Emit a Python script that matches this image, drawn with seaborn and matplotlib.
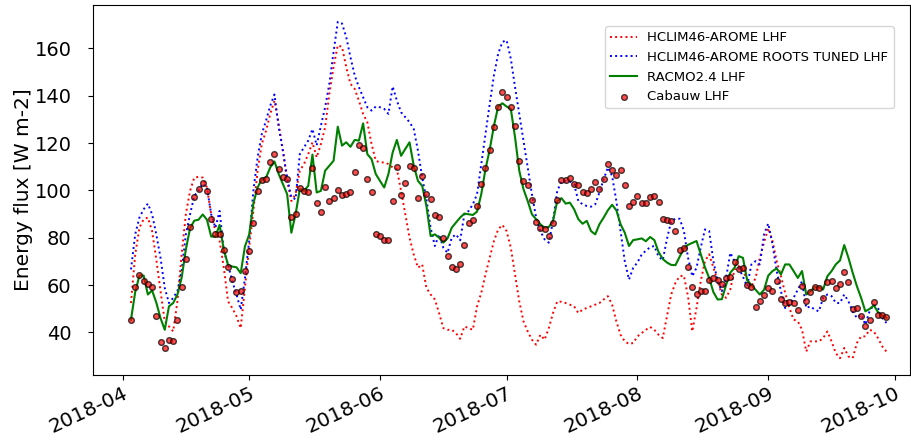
"""Latent heat flux at Cabauw: models vs observations, Apr-Sep 2018."""

import matplotlib

matplotlib.use("Agg")
import matplotlib.pyplot as plt
import pandas as pd
import seaborn as sns

# daily values, 2018-04-03 .. 2018-09-29
start_date = "2018-04-03"

hclim_lhf = [
    52.4, 72.9, 84.2, 87.8, 88.5, 82.8, 70.8, 57.4, 44.7, 42.5, 40.4, 53.1, 72.9, 89.9, 99.8,
    105.4, 105.7, 105.4, 101.2, 89.9, 82.8, 78.6, 67.3, 53.1, 50.3, 46.8, 41.8, 58.8, 75.8, 91.3,
    108.3, 119.6, 125.2, 132.3, 137.9, 128.1, 116.7, 104.0, 95.5, 98.4, 108.3, 111.1, 115.3, 120.3, 113.9,
    119.6, 126.6, 140.8, 152.1, 161.3, 160.6, 152.1, 145.0, 142.9, 137.9, 132.3, 128.8, 119.6, 112.5, 111.8,
    111.8, 111.1, 109.7, 109.0, 99.8, 89.9, 80.0, 72.9, 67.3, 68.7, 58.8, 56.0, 53.9, 48.2, 41.8,
    41.1, 41.1, 39.7, 37.3, 42.5, 41.8, 41.1, 51.0, 56.7, 64.5, 71.5, 78.6, 83.5, 85.4, 82.8, 75.8,
    64.5, 53.1, 44.7, 40.4, 36.9, 34.8, 39.0, 36.9, 41.8, 48.2, 53.1, 52.9, 52.4, 51.7, 51.0,
    48.2, 49.6, 50.3, 51.0, 51.7, 52.4, 53.9, 55.3, 51.7, 44.7, 39.0, 36.2, 35.1,
    35.5, 38.3, 39.7, 41.1, 42.3, 41.1, 39.0, 37.6, 46.8, 56.0, 60.9, 63.7, 64.0, 55.0, 40.4,
    50.3, 61.6, 70.1, 73.0, 67.3, 61.6, 56.0, 54.6, 58.1, 66.6, 68.0, 66.0, 62.3, 59.5, 63.0,
    71.5, 78.0, 84.0,
    78.6, 70.1, 63.7, 56.7, 50.3, 45.4, 44.7, 41.1, 31.9, 36.2, 36.2, 36.2, 37.6, 40.4, 36.2,
    31.2, 29.1, 33.4, 29.8, 29.1, 35.5, 38.3, 38.3, 41.1, 40.4, 37.6, 34.1, 31.9,
]

hclim_roots_lhf = [
    66.6, 81.4, 88.5, 92.0, 94.4, 89.9, 81.4, 71.5, 58.8, 52.4, 54.6, 57.4, 65.9, 81.4, 89.9,
    97.7, 99.8, 102.9, 101.2, 89.9, 84.2, 91.3, 74.3, 68.7, 61.6, 56.0, 49.6, 63.0, 78.6, 99.8,
    113.9, 123.8, 129.5, 135.8, 140.5, 126.6, 116.7, 105.4, 97.0, 96.3, 115.3, 118.2, 121.0, 125.9, 119.0,
    127.3, 135.1, 145.0, 158.4, 171.2, 170.5, 164.8, 156.3, 148.6, 143.6, 139.4, 135.1, 133.7, 135.4, 135.1,
    134.4, 132.3, 143.9, 137.9, 133.0, 130.9, 128.8, 125.9, 116.7, 105.4, 96.3, 84.2, 76.5, 81.4, 75.8,
    73.6, 80.0, 81.4, 78.9, 89.9, 91.3, 94.1, 98.4, 111.1, 123.8, 136.5, 148.6, 157.7, 162.7, 163.4, 155.6,
    143.6, 132.3, 121.0, 109.7, 98.4, 88.5, 82.8, 79.3, 77.9, 87.1, 99.8, 103.7, 104.0, 103.7, 102.6,
    95.5, 94.1, 93.4, 93.1, 94.1, 99.1, 104.7, 109.7, 106.1, 95.5, 82.8, 70.1, 62.3,
    67.3, 69.5, 72.9, 74.5, 76.0, 76.5, 72.0, 70.5, 79.5, 87.0, 88.0, 88.0, 83.0, 71.5, 63.7,
    67.3, 75.8, 83.5, 82.8, 70.1, 61.6, 57.4, 63.0, 73.6, 70.1, 67.3, 63.5, 59.5, 68.7, 70.1,
    68.7, 81.4, 86.0,
    77.2, 65.9, 57.4, 50.3, 51.7, 54.6, 58.1, 61.6, 50.3, 51.0, 49.6, 48.9, 54.6, 56.0, 55.3,
    52.4, 52.4, 56.0, 53.1, 48.9, 46.1, 47.5, 43.3, 48.9, 51.7, 50.3, 46.1, 44.0,
]

racmo_lhf = [
    45.4, 57.0, 64.0, 64.0, 56.0, 57.7, 52.6, 46.0, 41.1, 51.0, 52.4, 56.0, 63.0, 75.0, 84.0,
    87.2, 87.6, 89.8, 87.6, 80.5, 80.5, 85.4, 74.8, 68.5, 67.8, 67.5, 65.0, 76.3, 81.3, 94.5,
    101.2, 104.7, 105.4, 109.7, 112.2, 106.9, 102.6, 98.4, 82.1, 89.9, 100.5, 99.8, 101.9, 115.1, 99.1,
    99.8, 108.3, 110.4, 112.5, 126.9, 118.9, 120.3, 118.4, 121.3, 121.0, 128.3, 115.3, 113.2, 106.9, 104.0,
    101.2, 106.9, 116.0, 121.3, 114.6, 117.5, 120.3, 110.4, 104.0, 101.9, 93.4, 80.7, 81.4, 80.0, 77.9,
    79.7, 84.2, 86.4, 88.5, 90.2, 89.9, 89.6, 91.0, 98.4, 109.0, 117.2, 127.3, 135.4, 136.8, 135.4, 134.4,
    122.4, 108.3, 100.5, 95.5, 89.9, 87.8, 85.7, 84.2, 84.5, 87.1, 95.5, 96.7, 94.4, 94.8, 92.0,
    87.8, 85.9, 87.1, 82.8, 81.4, 85.7, 88.5, 91.6, 93.9, 91.6, 85.7, 82.1, 76.5,
    79.0, 79.3, 79.7, 78.5, 80.3, 79.0, 74.0, 71.0, 69.5, 68.5, 68.4, 72.0, 75.5, 77.0, 77.8,
    78.6, 73.0, 67.5, 63.0, 57.0, 53.9, 54.0, 60.0, 65.2, 67.3, 72.2, 71.5, 62.0, 60.0, 58.0,
    56.0, 58.0, 64.0,
    65.9, 67.0, 64.5, 68.7, 68.7, 65.9, 63.0, 65.9, 56.0, 57.4, 59.1, 59.1, 58.1, 63.7, 65.9,
    68.7, 70.4, 76.9, 71.5, 65.2, 59.5, 54.6, 48.9, 49.9, 51.4, 48.6, 47.1, 46.1,
]

cabauw_lhf = [
    45.4, 59.2, 64.2, 61.5, 60.6, 59.1, 46.8, 36.0, 33.6, 36.9, 36.3, 45.1, 59.2, 71.1, 84.7,
    97.0, 100.6, 102.9, 99.6, 87.8, 81.6, 81.6, 74.8, 67.7, 62.6, 57.0, 57.4, 66.1, 74.2, 86.1,
    99.8, 104.5, 105.0, 111.8, 115.2, 109.0, 105.7, 104.6, 88.8, 89.9, 100.8, 99.8, 99.1, 109.4, 94.8,
    91.0, 101.6, 95.5, 96.7, 100.2, 98.0, 98.4, 99.1, 107.6, 119.2, 118.0, 105.0, 99.1, 81.7, 80.6,
    78.9, 78.9, 95.5, 110.0, 98.2, 102.9, 110.4, 109.4, 96.7, 105.9, 98.4, 96.5, 89.4, 88.8, 79.7,
    72.2, 67.7, 66.6, 68.7, 77.0, 86.4, 87.5, 93.4, 102.6, 109.3, 117.2, 126.6, 135.4, 141.6, 139.6, 135.4,
    127.1, 112.5, 104.0, 102.2, 95.8, 86.6, 84.2, 83.5, 80.7, 86.1, 96.0, 104.5, 104.3, 105.4, 102.6,
    102.2, 99.1, 98.8, 100.5, 103.5, 100.5, 104.7, 111.1, 108.8, 106.4, 108.5, 102.2, 93.6, 95.0, 97.7,
    94.6, 94.8, 97.0, 97.8, 95.1, 87.8, 87.6, 87.1, 82.8, 74.6, 75.8, 67.6, 59.1, 56.3, 57.4,
    57.4, 62.2, 63.0, 62.2, 60.6, 63.0, 63.6, 69.7, 66.7, 67.3, 60.2, 59.1, 50.9, 53.3, 56.0, 58.8,
    57.4, 61.6, 54.1, 52.4, 52.9, 52.4, 49.3, 59.4, 53.4, 57.1, 59.1, 58.8, 54.6, 61.1, 61.6,
    58.8, 60.6, 65.7, 61.2, 49.9, 50.3, 47.1, 42.7, 45.1, 52.7, 47.5, 47.2, 46.6,
]

series_labels = [
    "HCLIM46-AROME LHF",
    "HCLIM46-AROME ROOTS TUNED LHF",
    "RACMO2.4 LHF",
    "Cabauw LHF",
]

dates = pd.date_range(start_date, periods=len(cabauw_lhf), freq="D")

fig = plt.figure(figsize=(9.12, 4.45), dpi=100)
ax = fig.add_axes([93 / 912, 70 / 445, 817 / 912, 370 / 445])

sns.lineplot(x=dates, y=hclim_lhf, ax=ax, color="red", linestyle=":", linewidth=1.4,
             label=series_labels[0])
sns.lineplot(x=dates, y=hclim_roots_lhf, ax=ax, color="blue", linestyle=":", linewidth=1.4,
             label=series_labels[1])
sns.lineplot(x=dates, y=racmo_lhf, ax=ax, color="green", linestyle="-", linewidth=1.5,
             label=series_labels[2])
sns.scatterplot(x=dates, y=cabauw_lhf, ax=ax, color="red", edgecolor="black", alpha=0.7,
                s=17, linewidth=1.0, label=series_labels[3], zorder=3)

ax.set_xlim(pd.Timestamp("2018-03-25"), pd.Timestamp("2018-10-04 14:00"))
ax.set_xlabel("")
ax.set_ylabel("Energy flux [W m-2]", fontsize=14.5)
ax.yaxis.set_label_coords(-0.074, 0.5)
ax.tick_params(axis="y", labelsize=14, pad=12)
ax.tick_params(axis="x", labelsize=14.5, pad=2.5)
plt.setp(ax.get_xticklabels(), rotation=25, ha="right", rotation_mode="anchor")

ax.legend(loc="upper right", bbox_to_anchor=(0.98, 0.943), borderaxespad=0,
          fontsize=9.5, frameon=True)

fig.savefig("out.png", dpi=100)
plt.close(fig)
